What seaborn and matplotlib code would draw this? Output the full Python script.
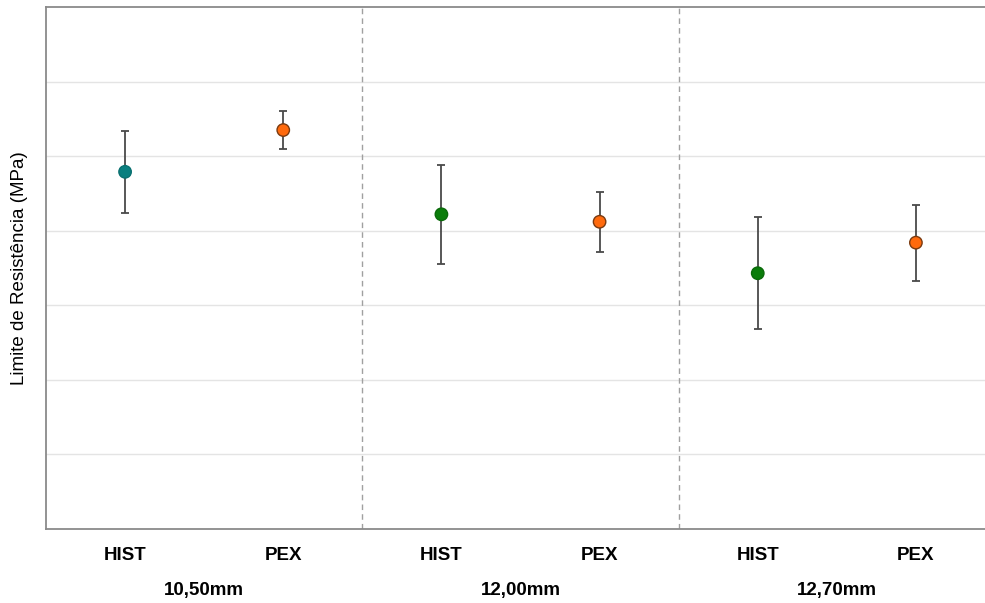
import numpy as np
import pandas as pd
import matplotlib
matplotlib.use("Agg")
import matplotlib.pyplot as plt
import seaborn as sns

# dados (MPa, escala aproximada)
grupos = ["10,50mm", "12,00mm", "12,70mm"]
tipos = ["HIST", "PEX", "HIST", "PEX", "HIST", "PEX"]
medias = [479, 535, 422, 412, 343, 384]
erros = [55, 25, 66, 40, 75, 51]
series = ["HIST 10,50", "PEX", "HIST", "PEX", "HIST", "PEX"]
cores = {"HIST 10,50": "#0a7f7f", "HIST": "#0a7d0a", "PEX": "#ff6a0d"}
bordas = {"HIST 10,50": "#0a7070", "HIST": "#0a6a0a", "PEX": "#7a3a10"}

df = pd.DataFrame({"pos": np.arange(len(tipos)), "media": medias,
                   "erro": erros, "serie": series, "tipo": tipos})

sns.set_style("white")
plt.rcParams['font.family'] = ['Liberation Sans', 'DejaVu Sans']
plt.rcParams['text.color'] = 'black'
plt.rcParams['axes.labelcolor'] = 'black'
plt.rcParams['xtick.color'] = 'black'

fig = plt.figure(figsize=(9.85, 6.03), dpi=100)
W, H = 985, 603
ax = fig.add_axes([46 / W, (H - 529) / H, (995 - 46) / W, (529 - 7) / H])

# grade horizontal
for yv in range(100, 700, 100):
    ax.axhline(yv, color="#e4e4e4", lw=1, zorder=0)
# divisores entre grupos
for xv in [1.5, 3.5]:
    ax.axvline(xv, color="#a0a0a0", lw=1, ls=(0, (4, 3)), zorder=1)

ax.errorbar(df["pos"], df["media"], yerr=df["erro"], fmt="none",
            ecolor="#4a4a4a", elinewidth=1.3, capsize=3, capthick=1.3, zorder=2)
sns.scatterplot(data=df, x="pos", y="media", hue="serie", palette=cores,
                s=80, legend=False, ax=ax, zorder=3, linewidth=0)
# bordas dos marcadores
ax.collections[-1].set_edgecolor([bordas[s] for s in df["serie"]])
ax.collections[-1].set_linewidth(1.0)

ax.set_xlim(-0.5, 5.5)
ax.set_ylim(0, 700)
ax.set_xticks(df["pos"])
ax.set_xticklabels(tipos, fontsize=13.5, fontweight="bold")
ax.tick_params(axis="x", length=0, pad=13)
ax.set_yticks([])
ax.set_xlabel("")
ax.set_ylabel("Limite de Resistência (MPa)", fontsize=13.5)
ax.yaxis.set_label_coords(-18 / (995 - 46), 0.5)

for i, g in enumerate(grupos):
    ax.text(2 * i + 0.5, -0.117, g, transform=ax.get_xaxis_transform(),
            ha="center", va="center", fontsize=13.5, fontweight="bold")

for s in ["top", "left", "bottom"]:
    ax.spines[s].set_color("#8a8a8a")
    ax.spines[s].set_linewidth(1.3)
ax.spines["right"].set_visible(False)

fig.savefig("out.png", dpi=100)
